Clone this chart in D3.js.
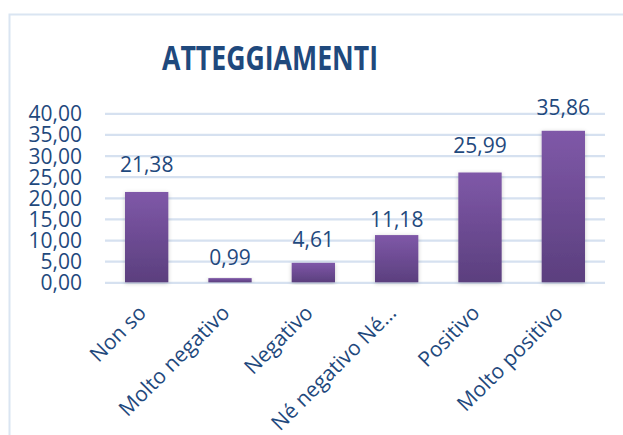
<!DOCTYPE html>
<html>
<head>
<meta charset="utf-8">
<script src="https://cdn.jsdelivr.net/npm/d3@7"></script>
<style>
  html, body { margin: 0; padding: 0; background: #ffffff; }
  svg { display: block; }
  text { font-family: "Open Sans", "Noto Sans", sans-serif; fill: #1f497d; }
</style>
</head>
<body>
<svg id="chart" width="623" height="435"></svg>
<script>
// ---- data ----
const title = "ATTEGGIAMENTI";
const categories = ["Non so", "Molto negativo", "Negativo", "Né negativo Né…", "Positivo", "Molto positivo"];
const values = [21.38, 0.99, 4.61, 11.18, 25.99, 35.86];
const yTicks = [0, 5, 10, 15, 20, 25, 30, 35, 40];

// ---- layout ----
const W = 623, H = 435;
const plot = { left: 105, right: 605, top: 113.3, bottom: 282.3 };
const labelGap = [20, 13, 16, 8, 19, 16];

const svg = d3.select("#chart");
const fmt = v => d3.format(".2f")(v).replace(".", ",");

const defs = svg.append("defs");
const grad = defs.append("linearGradient").attr("id", "barGrad")
  .attr("x1", 0).attr("y1", 0).attr("x2", 0).attr("y2", 1);
grad.append("stop").attr("offset", "0%").attr("stop-color", "#7f58a8");
grad.append("stop").attr("offset", "100%").attr("stop-color", "#5b3f7e");
const flt = defs.append("filter").attr("id", "shadow")
  .attr("x", "-30%").attr("y", "-10%").attr("width", "160%").attr("height", "120%");
flt.append("feDropShadow").attr("dx", 0).attr("dy", 1).attr("stdDeviation", 2.2)
  .attr("flood-color", "#000").attr("flood-opacity", 0.22);

// chart border
svg.append("path")
  .attr("d", `M9.5,${H + 5} V14.5 H${W + 5}`)
  .attr("fill", "none").attr("stroke", "#dae5f2").attr("stroke-width", 2);

const x = d3.scaleBand().domain(categories).range([plot.left, plot.right]).paddingInner(0.48).paddingOuter(0.24);
const y = d3.scaleLinear().domain([0, 40]).range([plot.bottom, plot.top]);

// gridlines
const gridAxis = d3.axisLeft(y).tickValues(yTicks).tickSize(-(plot.right - plot.left)).tickFormat("");
const gg = svg.append("g").attr("transform", `translate(${plot.left},0)`).call(gridAxis);
gg.select(".domain").remove();
gg.selectAll(".tick line").attr("stroke", "#d6e1f0").attr("stroke-width", 2.2);

// y tick labels
const yAxis = d3.axisLeft(y).tickValues(yTicks).tickSize(0).tickPadding(0).tickFormat(fmt);
const ya = svg.append("g").attr("transform", `translate(82,0)`).call(yAxis);
ya.select(".domain").remove();
ya.selectAll(".tick text")
  .attr("font-family", "\"Open Sans\", sans-serif")
  .attr("font-size", 21).attr("fill", "#1f497d").attr("dy", "0.36em");

// bars
svg.append("g").selectAll("rect").data(values).join("rect")
  .attr("x", (d, i) => x(categories[i]))
  .attr("y", d => y(d))
  .attr("width", x.bandwidth())
  .attr("height", d => y(0) - y(d))
  .attr("fill", "url(#barGrad)")
  .attr("filter", "url(#shadow)");

// value labels
svg.append("g").selectAll("text").data(values).join("text")
  .attr("x", (d, i) => x(categories[i]) + x.bandwidth() / 2)
  .attr("y", (d, i) => y(d) - labelGap[i])
  .attr("text-anchor", "middle")
  .attr("font-size", 21)
  .text(fmt);

// x axis labels (rotated)
const xAxis = d3.axisBottom(x).tickSize(0).tickPadding(0);
const xa = svg.append("g").attr("transform", `translate(-11,${plot.bottom + 20})`).call(xAxis);
xa.select(".domain").remove();
xa.selectAll(".tick text")
  .attr("font-family", "\"Open Sans\", sans-serif")
  .attr("font-size", 21).attr("fill", "#1f497d")
  .attr("text-anchor", "end")
  .attr("dy", "0.8em").attr("y", 0)
  .attr("transform", "rotate(-45)");

// title
svg.append("text")
  .attr("x", 270).attr("y", 70)
  .attr("text-anchor", "middle")
  .attr("font-size", 34).attr("font-weight", "bold")
  .attr("textLength", 216).attr("lengthAdjust", "spacingAndGlyphs")
  .text(title);
</script>
</body>
</html>
